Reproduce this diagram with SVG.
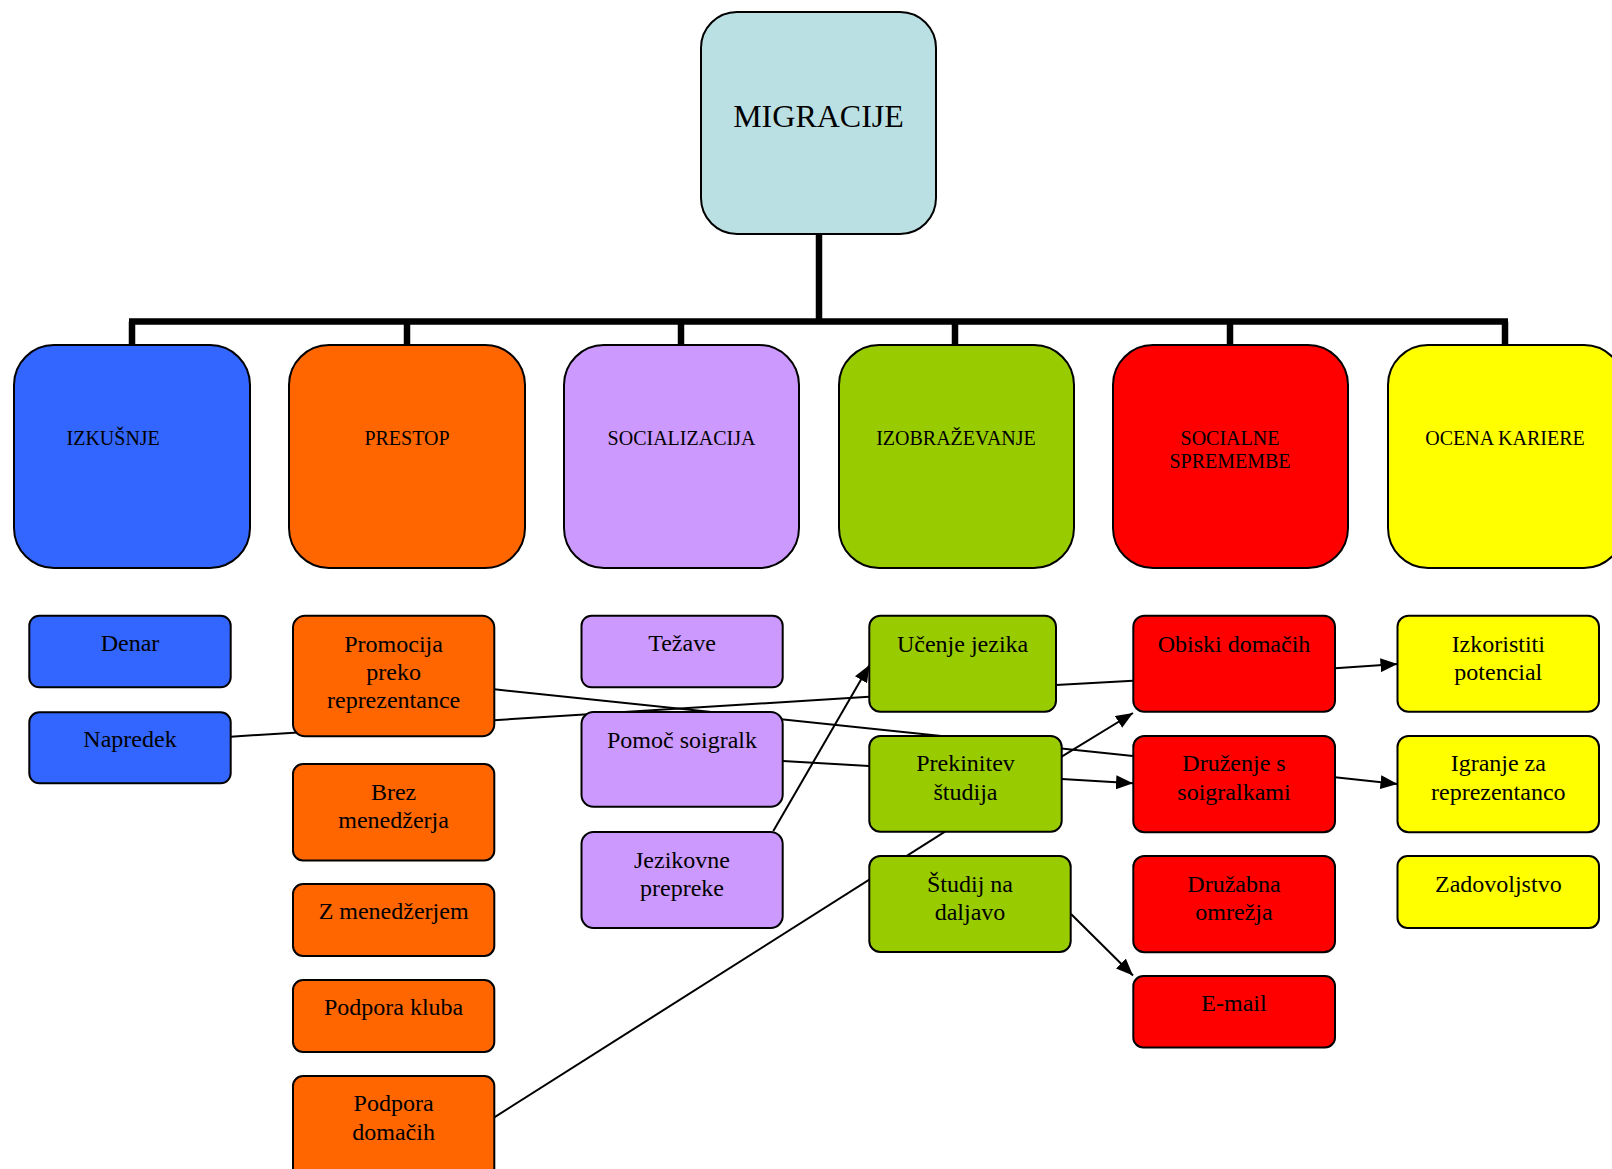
<svg xmlns="http://www.w3.org/2000/svg" width="1612" height="1169" viewBox="0 0 1612 1169">
  <style>
    text { font-family: "Liberation Serif", "Times New Roman", serif; fill: #000; text-anchor: middle; }
    .root { font-size: 32px; }
    .cat { font-size: 20px; }
    .item { font-size: 24px; }
    .box { stroke: #000; stroke-width: 2; }
    .tree { stroke: #000; stroke-width: 6.5; fill: none; }
    .link { stroke: #000; stroke-width: 2; fill: none; }
    .arrow { marker-end: url(#head); }
    .c-root { fill: #BBE0E3; }
    .c-blue { fill: #3366FF; }
    .c-orange { fill: #FF6600; }
    .c-violet { fill: #CC99FF; }
    .c-green { fill: #99CC00; }
    .c-red { fill: #FF0000; }
    .c-yellow { fill: #FFFF00; }
  </style>
  <defs>
    <marker id="head" markerUnits="userSpaceOnUse" markerWidth="17" markerHeight="14" refX="17" refY="7" orient="auto">
      <path d="M0,0 L17,7 L0,14 z" fill="#000"/>
    </marker>
  </defs>

  <rect width="1612" height="1169" fill="#fff"/>

  <!-- hierarchy lines and cross links (behind the boxes) -->
  <g id="connectors">
    <line class="tree" x1="819" y1="234" x2="819" y2="321.5"/>
    <line class="tree" x1="129" y1="321.5" x2="1508" y2="321.5"/>
    <line class="tree" x1="132" y1="321.5" x2="132" y2="346"/>
    <line class="tree" x1="407" y1="321.5" x2="407" y2="346"/>
    <line class="tree" x1="681" y1="321.5" x2="681" y2="346"/>
    <line class="tree" x1="955" y1="321.5" x2="955" y2="346"/>
    <line class="tree" x1="1230" y1="321.5" x2="1230" y2="346"/>
    <line class="tree" x1="1505" y1="321.5" x2="1505" y2="346"/>

    <line class="link" x1="230.7" y1="736.7" x2="869" y2="696.7"/>
    <line class="link" x1="494.3" y1="689.3" x2="1133" y2="756"/>
    <line class="link" x1="782.7" y1="761" x2="869" y2="766"/>
    <line class="link arrow" x1="773.3" y1="831" x2="869.5" y2="665"/>
    <line class="link" x1="494.3" y1="1117.3" x2="945" y2="831.7"/>
    <line class="link arrow" x1="1061.7" y1="756.7" x2="1133" y2="713"/>
    <line class="link arrow" x1="1061.7" y1="779" x2="1133" y2="783.3"/>
    <line class="link" x1="1056" y1="685" x2="1133" y2="680.7"/>
    <line class="link arrow" x1="1335" y1="668.3" x2="1397.5" y2="664"/>
    <line class="link arrow" x1="1335" y1="777.3" x2="1397.5" y2="784"/>
    <line class="link arrow" x1="1071" y1="914" x2="1133" y2="975.5"/>
  </g>

  <!-- root -->
  <g id="migracije">
    <rect class="box c-root" x="701" y="12" width="235" height="222" rx="36"/>
    <text class="root" x="818.5" y="126.5">MIGRACIJE</text>
  </g>

  <!-- categories -->
  <g id="izkusnje">
    <rect class="box c-blue" x="14" y="345" width="236" height="223" rx="40"/>
    <text class="cat" x="66.5" y="445" style="text-anchor:start">IZKUŠNJE</text>
  </g>
  <g id="prestop">
    <rect class="box c-orange" x="289" y="345" width="236" height="223" rx="40"/>
    <text class="cat" x="407" y="445">PRESTOP</text>
  </g>
  <g id="socializacija">
    <rect class="box c-violet" x="564" y="345" width="235" height="223" rx="40"/>
    <text class="cat" x="681.5" y="445">SOCIALIZACIJA</text>
  </g>
  <g id="izobrazevanje">
    <rect class="box c-green" x="839" y="345" width="235" height="223" rx="40"/>
    <text class="cat" x="956" y="445">IZOBRAŽEVANJE</text>
  </g>
  <g id="socialne-spremembe">
    <rect class="box c-red" x="1113" y="345" width="235" height="223" rx="40"/>
    <text class="cat" x="1230" y="445">SOCIALNE</text>
    <text class="cat" x="1230" y="468">SPREMEMBE</text>
  </g>
  <g id="ocena-kariere">
    <rect class="box c-yellow" x="1388" y="345" width="236" height="223" rx="40"/>
    <text class="cat" x="1505" y="445">OCENA KARIERE</text>
  </g>

  <!-- IZKUŠNJE items -->
  <g id="denar">
    <rect class="box c-blue" x="29.3" y="615.7" width="201.4" height="71.6" rx="10"/>
    <text class="item" x="130" y="651">Denar</text>
  </g>
  <g id="napredek">
    <rect class="box c-blue" x="29.3" y="712.3" width="201.4" height="71" rx="10"/>
    <text class="item" x="130" y="746.5">Napredek</text>
  </g>

  <!-- PRESTOP items -->
  <g id="promocija">
    <rect class="box c-orange" x="293" y="615.7" width="201.3" height="120.6" rx="12"/>
    <text class="item" x="393.6" y="651.5">Promocija</text>
    <text class="item" x="393.6" y="679.5">preko</text>
    <text class="item" x="393.6" y="707.5">reprezentance</text>
  </g>
  <g id="brez-menedzerja">
    <rect class="box c-orange" x="293" y="764" width="201.3" height="96.5" rx="10"/>
    <text class="item" x="393.6" y="800">Brez</text>
    <text class="item" x="393.6" y="828">menedžerja</text>
  </g>
  <g id="z-menedzerjem">
    <rect class="box c-orange" x="293" y="884" width="201.3" height="72" rx="10"/>
    <text class="item" x="393.6" y="919">Z menedžerjem</text>
  </g>
  <g id="podpora-kluba">
    <rect class="box c-orange" x="293" y="980" width="201.3" height="72" rx="10"/>
    <text class="item" x="393.6" y="1015">Podpora kluba</text>
  </g>
  <g id="podpora-domacih">
    <rect class="box c-orange" x="293" y="1076" width="201.3" height="110" rx="10"/>
    <text class="item" x="393.6" y="1111.2">Podpora</text>
    <text class="item" x="393.6" y="1139.5">domačih</text>
  </g>

  <!-- SOCIALIZACIJA items -->
  <g id="tezave">
    <rect class="box c-violet" x="581.5" y="615.7" width="201.2" height="71.6" rx="10"/>
    <text class="item" x="682" y="651">Težave</text>
  </g>
  <g id="pomoc-soigralk">
    <rect class="box c-violet" x="581.5" y="712" width="201.2" height="94.7" rx="12"/>
    <text class="item" x="682" y="748">Pomoč soigralk</text>
  </g>
  <g id="jezikovne-prepreke">
    <rect class="box c-violet" x="581.5" y="832" width="201.2" height="96" rx="12"/>
    <text class="item" x="682" y="867.5">Jezikovne</text>
    <text class="item" x="682" y="895.5">prepreke</text>
  </g>

  <!-- IZOBRAŽEVANJE items -->
  <g id="ucenje-jezika">
    <rect class="box c-green" x="869.3" y="615.7" width="186.7" height="96" rx="11"/>
    <text class="item" x="962.6" y="651.5">Učenje jezika</text>
  </g>
  <g id="prekinitev-studija">
    <rect class="box c-green" x="869.3" y="736" width="192.4" height="95.7" rx="11"/>
    <text class="item" x="965.5" y="771.3">Prekinitev</text>
    <text class="item" x="965.5" y="799.5">študija</text>
  </g>
  <g id="studij-na-daljavo">
    <rect class="box c-green" x="869.3" y="856" width="201.4" height="96" rx="11"/>
    <text class="item" x="970" y="891.5">Študij na</text>
    <text class="item" x="970" y="919.5">daljavo</text>
  </g>

  <!-- SOCIALNE SPREMEMBE items -->
  <g id="obiski-domacih">
    <rect class="box c-red" x="1133.3" y="615.7" width="201.7" height="96" rx="11"/>
    <text class="item" x="1234" y="651.5">Obiski domačih</text>
  </g>
  <g id="druzenje">
    <rect class="box c-red" x="1133.3" y="736" width="201.7" height="96.3" rx="11"/>
    <text class="item" x="1234" y="771.3">Druženje s</text>
    <text class="item" x="1234" y="799.5">soigralkami</text>
  </g>
  <g id="druzabna-omrezja">
    <rect class="box c-red" x="1133.3" y="856" width="201.7" height="96.3" rx="11"/>
    <text class="item" x="1234" y="891.5">Družabna</text>
    <text class="item" x="1234" y="919.5">omrežja</text>
  </g>
  <g id="e-mail">
    <rect class="box c-red" x="1133.3" y="976" width="201.7" height="71.5" rx="10"/>
    <text class="item" x="1234" y="1011">E-mail</text>
  </g>

  <!-- OCENA KARIERE items -->
  <g id="izkoristiti-potencial">
    <rect class="box c-yellow" x="1397.5" y="615.7" width="201.5" height="96" rx="11"/>
    <text class="item" x="1498.3" y="651.5">Izkoristiti</text>
    <text class="item" x="1498.3" y="679.5">potencial</text>
  </g>
  <g id="igranje-za-reprezentanco">
    <rect class="box c-yellow" x="1397.5" y="736" width="201.5" height="96.3" rx="11"/>
    <text class="item" x="1498.3" y="771.3">Igranje za</text>
    <text class="item" x="1498.3" y="799.5">reprezentanco</text>
  </g>
  <g id="zadovoljstvo">
    <rect class="box c-yellow" x="1397.5" y="856" width="201.5" height="72" rx="10"/>
    <text class="item" x="1498.3" y="891.5">Zadovoljstvo</text>
  </g>
</svg>
